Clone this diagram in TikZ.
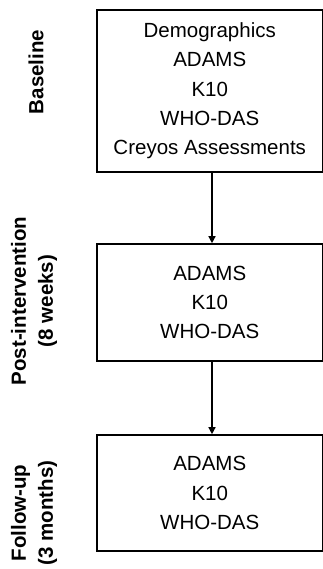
\documentclass[tikz,border=0pt]{standalone}
\usepackage{fontspec}
\setmainfont{Liberation Sans}
\usetikzlibrary{arrows.meta}
\begin{document}
\begin{tikzpicture}[x=1pt,y=-1pt,
  stagebox/.style={draw=black,line width=1.6pt,rectangle,inner sep=0pt,
    minimum width=225.5pt,align=center,
    font={\fontsize{20.5}{29.3}\selectfont}},
  sidelabel/.style={rotate=90,align=center,inner sep=0pt,
    font={\fontsize{20.5}{27}\selectfont\bfseries}},
  flow/.style={line width=1.3pt,-{Triangle[length=7pt,width=7pt]}}]
\useasboundingbox (0,0) rectangle (323,569);
\node[stagebox,minimum height=162pt] (b1) at (209.75,91)
  {Demographics\\ADAMS\\K10\\WHO-DAS\\Creyos Assessments};
\node[stagebox,minimum height=117pt] (b2) at (209.75,302.5)
  {ADAMS\\K10\\WHO-DAS};
\node[stagebox,minimum height=116pt] (b3) at (209.75,493)
  {ADAMS\\K10\\WHO-DAS};
\node[sidelabel] (l1) at (36,72) {Baseline};
\node[sidelabel] (l2) at (34,301) {Post-intervention\\(8 weeks)};
\node[sidelabel] (l3) at (34,513) {Follow-up\\(3 months)};
\draw[flow] ([xshift=2.25pt]b1.south) -- ([xshift=2.25pt]b2.north);
\draw[flow] ([xshift=2.25pt]b2.south) -- ([xshift=2.25pt]b3.north);
\end{tikzpicture}
\end{document}
